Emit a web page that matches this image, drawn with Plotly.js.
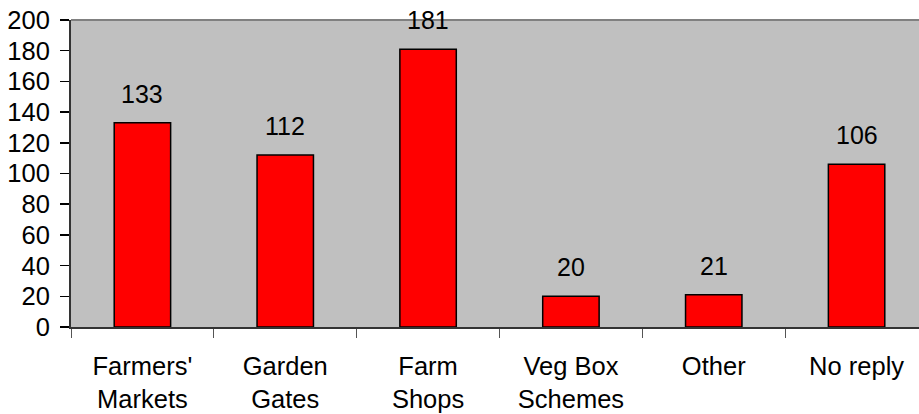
<!DOCTYPE html>
<html>
<head>
<meta charset="utf-8">
<script src="https://cdn.plot.ly/plotly-3.0.1.min.js"></script>
<style>
html,body{margin:0;padding:0;overflow:hidden;background:#fff;}
#chart{width:930px;height:414px;}
</style>
</head>
<body>
<div id="chart"></div>
<script>
const categories = ["Farmers' Markets", "Garden Gates", "Farm Shops", "Veg Box Schemes", "Other", "No reply"];
const tickLabels = ["Farmers'<br>Markets", "Garden<br>Gates", "Farm<br>Shops", "Veg Box<br>Schemes", "Other", "No reply"];
const counts = [133, 112, 181, 20, 21, 106];
const yTicks = [0, 20, 40, 60, 80, 100, 120, 140, 160, 180, 200];

const FONT = 'Liberation Sans, Arial, sans-serif';

const trace = {
  type: 'bar',
  x: categories,
  y: counts,
  marker: {color: '#FF0000', line: {color: '#000000', width: 1.5}},
  hoverinfo: 'skip'
};

const annotations = categories.map((c, i) => ({
  x: c, y: counts[i], xref: 'x', yref: 'y',
  text: String(counts[i]),
  showarrow: false, yanchor: 'bottom', yshift: 13,
  font: {family: FONT, size: 25, color: '#000'}
}));

const layout = {
  width: 930, height: 414,
  margin: {l: 71, r: 2, t: 20, b: 87},
  paper_bgcolor: '#ffffff',
  plot_bgcolor: '#C0C0C0',
  bargap: 0.605,
  showlegend: false,
  font: {family: FONT, size: 25, color: '#000'},
  xaxis: {
    type: 'category',
    tickvals: categories,
    ticktext: tickLabels,
    tickson: 'boundaries',
    ticks: 'outside', ticklen: 9, tickwidth: 1, tickcolor: '#555',
    showline: true, linecolor: '#333', linewidth: 2,
    showgrid: false, zeroline: false,
    tickangle: 0,
    tickfont: {family: FONT, size: 25.5, color: '#000'},
    ticklabelstandoff: 15
  },
  yaxis: {
    range: [0, 200],
    tickvals: yTicks,
    ticktext: yTicks.map(String),
    ticks: 'outside', ticklen: 9, tickwidth: 1.5, tickcolor: '#000',
    showline: true, linecolor: '#333', linewidth: 2,
    showgrid: false, zeroline: false,
    tickfont: {family: FONT, size: 25.5, color: '#000'},
    ticklabelstandoff: 5
  },
  shapes: [{
    type: 'line', xref: 'paper', yref: 'paper', x0: 0, x1: 1, y0: 1, y1: 1,
    line: {color: '#808080', width: 2}
  }],
  annotations: annotations
};

Plotly.newPlot('chart', [trace], layout, {displayModeBar: false, staticPlot: true});
</script>
</body>
</html>
